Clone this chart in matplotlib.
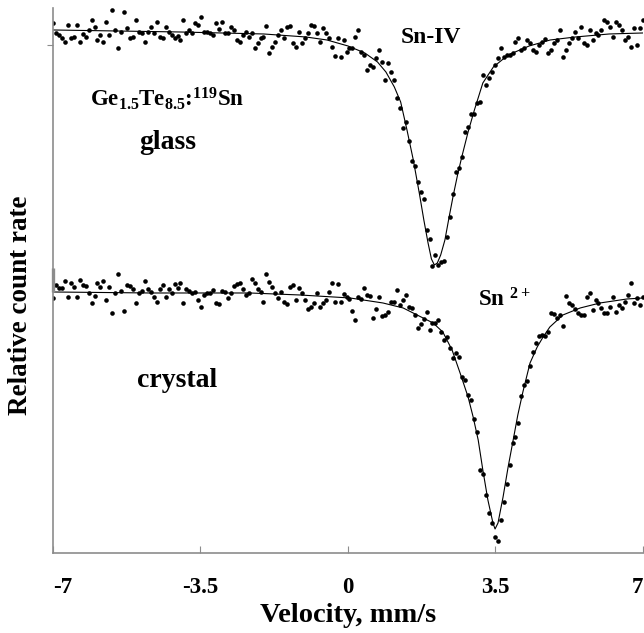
"""
Mossbauer spectra of Ge1.5Te8.5:119Sn, glass and crystal, stacked.
"""

import numpy as np
import matplotlib
matplotlib.use("Agg")
import matplotlib.pyplot as plt

# --- measured spectra (relative count rate x 1000, 200 channels from -7 to 7 mm/s) ---
glass_counts = [
    1007, 997, 995, 992, 988, 1005, 992, 993, 1005, 988, 996,
    993, 1000, 1010, 1003, 990, 995, 988, 1008, 995, 1020,
    1000, 982, 998, 1018, 1002, 992, 993, 1010, 998, 997, 988,
    998, 1003, 997, 1008, 993, 992, 1003, 998, 995, 992, 994,
    990, 1010, 997, 1000, 997, 1007, 1005, 1013, 998, 998,
    997, 995, 1007, 1001, 1008, 997, 997, 1003, 1000, 990, 988,
    995, 998, 993,
    997, 982, 987, 992, 993, 1004, 977, 983, 988, 995,
    1000, 992, 1003, 1004, 987, 983, 998, 987, 992, 997,
    1005, 1004, 997, 988, 1002, 997, 992, 983, 974, 992,
    973, 990, 978, 982, 982, 993, 1000, 978, 975, 960,
    965, 963, 972, 980, 968, 950, 967, 958, 950, 932, 922,
    902, 908, 889, 869, 864, 848, 838, 831, 800, 791,
    764, 775, 765, 768, 769, 793, 813, 836, 858, 862,
    873, 898, 903, 916, 916, 927, 928,
    955, 945, 952, 958, 965, 972, 982, 973, 975, 975,
    977, 988, 992, 980, 982, 990, 987, 980, 978, 985,
    988, 991, 977, 980, 987, 990, 1000, 973, 980, 987,
    992, 998, 992, 1003, 987, 985, 1000, 990, 997, 995,
    1000, 1010, 1008, 1003, 993, 1008, 1005, 1000, 990, 993,
    983, 1002, 985, 1002, 1010,
]

crystal_counts = [
    994, 1007, 1004, 1004, 1011, 995, 1009, 1005, 995, 1012,
    1007, 1006, 999, 989, 996, 1009, 1005, 1011, 992, 1005,
    979, 999, 1018, 1001, 981, 1007, 1006, 1003, 989, 999,
    1001, 1011, 1003, 1000, 995, 990, 1003, 1007, 995, 1003,
    999, 1008, 1004, 1009, 989, 1003, 1001, 999, 1000, 992,
    985, 997, 999, 999, 1002, 989, 988, 1001, 1000, 994,
    999, 1006, 1008, 1009, 1003, 997, 999,
    1013, 1009, 1003, 1000, 990, 1018, 1010, 1005, 999, 994,
    1000, 990, 988, 1005, 1007, 992, 1004, 999, 992, 983,
    985, 989, 999, 985, 989, 992, 1000, 1009, 990, 1008,
    990, 998, 995, 993, 981, 972, 995, 993, 1004,
    997, 996, 974, 983, 995, 976, 977, 980, 990, 990,
    1002, 987, 992, 997, 985, 984, 977, 964, 968, 973,
    980, 962, 969, 969, 972, 960, 952,
    955, 944, 934, 939, 935, 915, 912, 897, 892, 873,
    860, 822, 818, 797, 779, 769, 755, 751, 772, 790,
    808, 827, 849, 855, 869, 896, 907, 911, 926, 940,
    949, 956, 957, 956, 960,
    979, 978, 974, 977, 966, 996, 989, 987, 983, 979,
    977, 977, 995, 999, 982, 992, 989, 984, 979, 979,
    985, 995, 980, 987, 984, 990, 997, 1009, 989, 994,
    987, 995,
]

# --- fitted envelopes (velocity in mm/s, relative count rate x 1000) ---
glass_fit_v = [-7.0, -5.5, -4.0, -3.0, -2.0, -1.0, -0.5, 0.0, 0.4, 0.7,
               0.9, 1.1, 1.25, 1.4, 1.55, 1.7, 1.8, 1.9, 1.98, 2.05,
               2.12, 2.2, 2.3, 2.4, 2.5, 2.6, 2.7, 2.85, 3.0, 3.2,
               3.45, 3.8, 4.3, 4.8, 5.4, 6.2, 7.0]
glass_fit = [1000, 999, 998, 997, 996, 993, 990, 984, 977, 968,
             958, 943, 928, 900, 870, 835, 810, 787, 771, 765,
             767, 775, 790, 813, 835, 855, 873, 898, 920, 947,
             963, 975, 984, 990, 993, 996, 997]

crystal_fit_v = [-7.0, -4.7, -2.33, -1.14, 0.05, 0.83, 1.31, 1.64, 2.02, 2.25,
                 2.47, 2.66, 2.85, 2.97, 3.09, 3.20, 3.32, 3.44, 3.49, 3.56,
                 3.68, 3.80, 3.92, 4.03, 4.15, 4.32, 4.49, 4.63, 4.79, 5.10,
                 5.51, 5.98, 6.62, 7.0]
crystal_fit = [1000, 999, 999, 997, 994, 989, 984, 977, 969, 960,
               942, 919, 895, 875, 852, 822, 792, 769, 763, 769,
               795, 825, 852, 877, 900, 929, 945, 955, 965, 977,
               984, 989, 993, 994]

x_ticks = [-7, -3.5, 0, 3.5, 7]
x_tick_labels = ["-7", "-3.5", "0", "3.5", "7"]

# vertical shift of the crystal spectrum below the glass one
crystal_offset = 0.262

plt.rcParams["font.family"] = ["Liberation Serif", "DejaVu Serif"]
plt.rcParams["font.weight"] = "bold"
plt.rcParams["mathtext.fontset"] = "custom"
plt.rcParams["mathtext.rm"] = "Liberation Serif:bold"
plt.rcParams["mathtext.it"] = "Liberation Serif:bold"
plt.rcParams["mathtext.bf"] = "Liberation Serif:bold"

fig = plt.figure(figsize=(6.44, 6.33), dpi=100)
ax = fig.add_axes([0.0823, 0.1264, 0.9161, 0.861])

velocity = np.linspace(-7, 7, len(glass_counts))
glass = np.array(glass_counts) / 1000.0
crystal = np.array(crystal_counts) / 1000.0 - crystal_offset

# data points
ax.plot(velocity, glass, "o", color="black", ms=3.3, mec="none")
ax.plot(velocity, crystal, "o", color="black", ms=3.3, mec="none")

# fitted lines
ax.plot(glass_fit_v, np.array(glass_fit) / 1000.0, color="black", lw=0.8)
ax.plot(crystal_fit_v, np.array(crystal_fit) / 1000.0 - crystal_offset,
        color="black", lw=0.8)

ax.set_xlim(-7, 7)
ax.set_ylim(0.477, 1.022)

# axes look: only left/bottom, grey, ticks pointing inward
for side in ["top", "right"]:
    ax.spines[side].set_visible(False)
for side in ["left", "bottom"]:
    ax.spines[side].set_color("#8c8c8c")
    ax.spines[side].set_linewidth(1.2)

# the lower panel's axis starts with a heavier stub
ax.plot([0, 0], [0.479, 0.523], transform=ax.transAxes, color="#8c8c8c",
        lw=2.4, clip_on=False, solid_capstyle="butt")

ax.set_xticks(x_ticks)
ax.set_xticklabels(x_tick_labels, fontsize=16.5, fontweight="bold")
ax.get_xticklabels()[0].set_horizontalalignment("left")
ax.get_xticklabels()[-1].set_horizontalalignment("right")
ax.tick_params(axis="x", direction="in", length=5, color="#8c8c8c", pad=17)
ax.set_yticks([0.985])
ax.set_yticklabels([])
ax.tick_params(axis="y", direction="out", length=4, color="#8c8c8c")

ax.set_xlabel("Velocity, mm/s", fontsize=20.5, fontweight="bold", labelpad=4)
ax.set_ylabel("Relative count rate", fontsize=19.5, fontweight="bold")
ax.yaxis.set_label_coords(-0.034, 0.454)

# sample and site annotations
ax.text(-6.12, 0.924, r"Ge$_{1.5}$Te$_{8.5}$:$^{119}$Sn", fontsize=16.5,
        fontweight="bold", ha="left", va="baseline")
ax.text(-4.27, 0.887, "glass", fontsize=20, fontweight="bold",
        ha="center", va="center")
ax.text(1.97, 0.992, "Sn-IV", fontsize=17, fontweight="bold",
        ha="center", va="center")
ax.text(3.09, 0.730, r"Sn $^{2+}$", fontsize=16.5, fontweight="bold",
        ha="left", va="center")
ax.text(-4.06, 0.649, "crystal", fontsize=20, fontweight="bold",
        ha="center", va="center")

fig.savefig("out.png", dpi=100)
